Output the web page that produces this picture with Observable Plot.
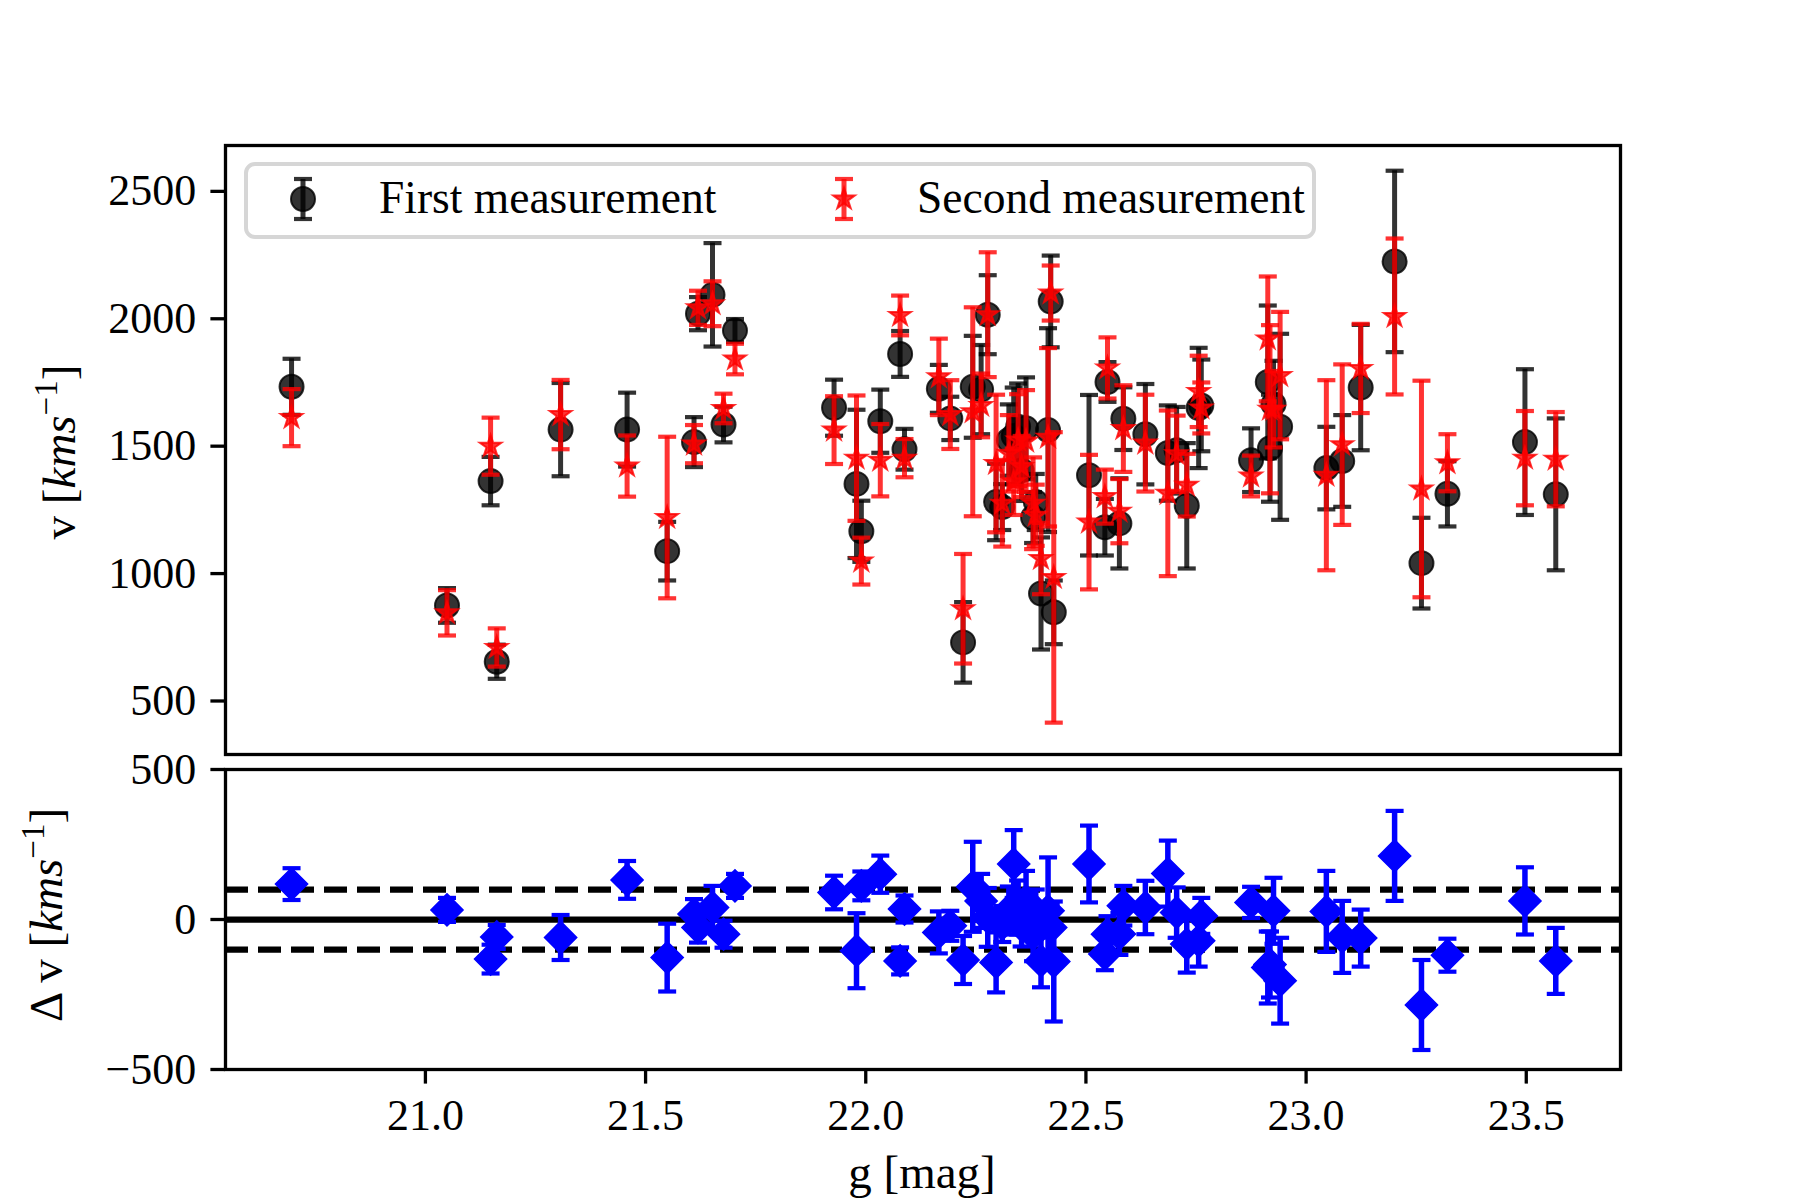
<!DOCTYPE html>
<html>
<head>
<meta charset="utf-8">
<script src="https://cdn.jsdelivr.net/npm/d3@7"></script>
<script src="https://cdn.jsdelivr.net/npm/@observablehq/plot@0.6"></script>
<style>
  html, body { margin: 0; padding: 0; background: white; }
  #chart { position: relative; width: 1800px; height: 1200px; background: white; }
  #chart svg { position: absolute; left: 0; overflow: visible; }
</style>
</head>
<body>
<div id="chart"></div>
<script>
// ---- data ----
const gmag = [20.696, 21.049, 21.148, 21.162, 21.307, 21.458, 21.549, 21.610, 21.619, 21.652,
  21.677, 21.703, 21.928, 21.979, 21.990, 22.033, 22.078, 22.088, 22.166, 22.192,
  22.221, 22.243, 22.262, 22.277, 22.296, 22.310, 22.325, 22.336, 22.346, 22.354,
  22.364, 22.380, 22.386, 22.398, 22.414, 22.420, 22.427, 22.507, 22.543, 22.549,
  22.576, 22.585, 22.635, 22.686, 22.706, 22.729, 22.756, 22.762, 22.875, 22.913,
  22.918, 22.926, 22.941, 23.046, 23.082, 23.124, 23.201, 23.262, 23.321, 23.497, 23.567];
const vFirst = [1733, 875, 1363, 654, 1565, 1565, 1088, 1516, 2020, 2094,
  1585, 1954, 1651, 1352, 1166, 1598, 1862, 1488, 1725, 1609,
  730, 1733, 1722, 2016, 1281, 1261, 1524, 1540, 1576, 1405,
  1570, 1220, 1281, 922, 1563, 2068, 848, 1386, 1182, 1752,
  1197, 1608, 1547, 1473, 1484, 1266, 1650, 1660, 1445, 1752,
  1492, 1665, 1576, 1414, 1442, 1730, 2225, 1041, 1313, 1516, 1311];
const eFirst = [110, 68, 95, 67, 183, 145, 115, 98, 65, 203,
  70, 45, 110, 291, 120, 124, 90, 80, 94, 85,
  158, 200, 175, 155, 150, 90, 140, 190, 170, 120,
  200, 100, 110, 220, 400, 180, 125, 315, 111, 78,
  177, 123, 197, 187, 170, 246, 236, 180, 125, 300,
  210, 170, 365, 162, 180, 246, 356, 178, 128, 286, 298];
const vSecond = [1612, 846, 1500, 710, 1624, 1422, 1220, 1508, 2043, 2059,
  1648, 1842, 1563, 1453, 1049, 1445, 2013, 1453, 1772, 1624,
  862, 1635, 1660, 2016, 1432, 1276, 1472, 1360, 1524, 1420,
  1520, 1276, 1229, 1059, 1535, 2101, 985, 1202, 1302, 1807,
  1245, 1569, 1512, 1315, 1470, 1347, 1715, 1650, 1383, 1921,
  1645, 1645, 1777, 1386, 1506, 1805, 2009, 1332, 1435, 1453, 1449];
const eSecond = [112, 89, 112, 75, 136, 120, 317, 75, 67, 88,
  58, 60, 133, 246, 92, 142, 78, 75, 150, 135,
  215, 410, 125, 245, 270, 170, 150, 130, 180, 120,
  200, 180, 120, 140, 350, 108, 570, 264, 106, 120,
  126, 170, 190, 325, 150, 123, 140, 100, 80, 245,
  330, 150, 250, 373, 315, 175, 306, 425, 112, 185, 185];
const dV = [118, 32, -132, -58, -60, 132, -127, 18, -27, 40,
  -49, 112, 90, -104, 112, 151, -138, 35, -43, -21,
  -135, 109, 62, 7, -143, -15, 30, 185, 40, -20,
  62, -49, 20, -138, 29, -27, -140, 185, -115, -49,
  -48, 46, 40, 153, 23, -82, -71, 12, 57, -160,
  -150, 29, -204, 27, -58, -62, 212, -285, -119, 62, -138];
const dVerr = [53, 40, 48, 40, 75, 63, 113, 50, 50, 72,
  45, 40, 56, 125, 48, 62, 45, 45, 70, 50,
  80, 150, 90, 98, 100, 60, 80, 113, 90, 70,
  100, 90, 80, 88, 178, 80, 200, 128, 54, 60,
  70, 66, 89, 110, 84, 95, 86, 60, 52, 120,
  110, 110, 143, 135, 120, 95, 150, 150, 55, 112, 110];

const xTicks = [21.0, 21.5, 22.0, 22.5, 23.0, 23.5];
const yTicksTop = [500, 1000, 1500, 2000, 2500];
const yTicksBottom = [-500, 0, 500];
const zeroLine = [0];
const limitLines = [100, -100];
const legendLabels = ["First measurement", "Second measurement"];

const rows = gmag.map((g, i) => ({
  g, v1: vFirst[i], e1: eFirst[i], v2: vSecond[i], e2: eSecond[i], dv: dV[i], dve: dVerr[i]
}));

// ---- style ----
const FONT = "'Liberation Serif', 'DejaVu Serif', serif";
const FS = 44;
const LFS = 47;
const LEGFS = 45.5;
const xDomain = [20.546, 23.714];
const minus = d => d < 0 ? "\u2212" + Math.abs(d) : String(d);
const cap = { draw(ctx, size) { const w = Math.sqrt(size / Math.PI); ctx.moveTo(-w, 0); ctx.lineTo(w, 0); } };
const svgStyle = { fontFamily: FONT, fontSize: FS + "px", background: "transparent", color: "black", overflow: "visible" };

function errMarks(y, e, color, opacity, lw) {
  const common = { x: "g", stroke: color, strokeOpacity: opacity, fill: "none" };
  return [
    Plot.ruleX(rows, { ...common, y1: d => d[y] - d[e], y2: d => d[y] + d[e], strokeWidth: lw }),
    Plot.dot(rows, { ...common, y: d => d[y] - d[e], symbol: cap, r: 9, strokeWidth: 4.2, strokeLinecap: "butt" }),
    Plot.dot(rows, { ...common, y: d => d[y] + d[e], symbol: cap, r: 9, strokeWidth: 4.2, strokeLinecap: "butt" })
  ];
}

// ---- top panel ----
const topPlot = Plot.plot({
  width: 1800, height: 760,
  marginTop: 145, marginBottom: 6, marginLeft: 225, marginRight: 180,
  style: svgStyle,
  x: { domain: xDomain, axis: null },
  y: { domain: [290, 2680] },
  marks: [
    Plot.axisY({ ticks: yTicksTop, tickSize: 14.6, tickPadding: 14.6, strokeWidth: 3.3, label: null,
      tickFormat: d => String(d), fontSize: FS, fontFamily: FONT }),
    ...errMarks("v1", "e1", "black", 0.8, 5),
    Plot.dot(rows, { x: "g", y: "v1", r: 12, fill: "black", fillOpacity: 0.8, stroke: "black", strokeOpacity: 0.8, strokeWidth: 2 }),
    ...errMarks("v2", "e2", "red", 0.8, 5),
    Plot.dot(rows, { x: "g", y: "v2", symbol: "star", r: 6.8, fill: "red", fillOpacity: 0.8, stroke: "red", strokeOpacity: 0.8, strokeWidth: 2 }),
    Plot.frame({ stroke: "black", strokeWidth: 3.3 })
  ]
});
topPlot.style.top = "0px";

// ---- bottom panel ----
const bottomPlot = Plot.plot({
  width: 1800, height: 500,
  marginTop: 69, marginBottom: 131, marginLeft: 225, marginRight: 180,
  style: svgStyle,
  x: { domain: xDomain },
  y: { domain: [-500, 500] },
  marks: [
    Plot.axisX({ ticks: xTicks, tickSize: 14.6, tickPadding: 14.6, strokeWidth: 3.3, label: null,
      tickFormat: d => d.toFixed(1), fontSize: FS, fontFamily: FONT }),
    Plot.axisY({ ticks: yTicksBottom, tickSize: 14.6, tickPadding: 14.6, strokeWidth: 3.3, label: null,
      tickFormat: minus, fontSize: FS, fontFamily: FONT }),
    Plot.ruleY(zeroLine, { stroke: "black", strokeWidth: 6.25 }),
    Plot.ruleY(limitLines, { stroke: "black", strokeWidth: 6.25, strokeDasharray: "23,10" }),
    ...errMarks("dv", "dve", "blue", 1, 5.5),
    Plot.dot(rows, { x: "g", y: "dv", symbol: "diamond2", r: 14.5, fill: "blue", stroke: "blue", strokeWidth: 1.5 }),
    Plot.frame({ stroke: "black", strokeWidth: 3.3 })
  ]
});
bottomPlot.style.top = "700px";

const chart = document.getElementById("chart");
chart.appendChild(topPlot);
chart.appendChild(bottomPlot);

// ---- axis labels ----
function yLabel(svg, x, y, prefix) {
  const t = d3.select(svg).append("text")
    .attr("transform", `translate(${x},${y}) rotate(-90)`)
    .attr("text-anchor", "middle").attr("font-family", FONT).attr("font-size", LFS).attr("fill", "black");
  t.append("tspan").text(prefix + " [");
  t.append("tspan").attr("font-style", "italic").text("kms");
  t.append("tspan").attr("font-size", 33).attr("dy", -18).text("\u22121");
  t.append("tspan").attr("dy", 18).text("]");
}
yLabel(topPlot, 75, 452, "v");
yLabel(bottomPlot, 62, 215, "\u0394 v");

d3.select(bottomPlot).append("text")
  .attr("x", 922).attr("y", 488).attr("text-anchor", "middle")
  .attr("font-family", FONT).attr("font-size", LFS).attr("fill", "black")
  .text("g [mag]");

// ---- legend ----
const lg = d3.select(topPlot).append("g");
lg.append("rect").attr("x", 246).attr("y", 164).attr("width", 1068).attr("height", 73).attr("rx", 9)
  .attr("fill", "white").attr("fill-opacity", 0.8).attr("stroke", "#d6d6d6").attr("stroke-width", 4);
const handles = [
  { x: 303, tx: 379, color: "black", type: d3.symbolCircle, size: Math.PI * 144, label: legendLabels[0] },
  { x: 844, tx: 917, color: "red", type: d3.symbolStar, size: Math.PI * 6.8 * 6.8, label: legendLabels[1] }
];
for (const h of handles) {
  const hy = 199;
  lg.append("line").attr("x1", h.x).attr("x2", h.x).attr("y1", hy - 20).attr("y2", hy + 20)
    .attr("stroke", h.color).attr("stroke-opacity", 0.8).attr("stroke-width", 5);
  for (const cy of [hy - 20, hy + 20]) {
    lg.append("line").attr("x1", h.x - 9).attr("x2", h.x + 9).attr("y1", cy).attr("y2", cy)
      .attr("stroke", h.color).attr("stroke-opacity", 0.8).attr("stroke-width", 4.2);
  }
  lg.append("path").attr("d", d3.symbol(h.type, h.size)()).attr("transform", `translate(${h.x},${hy})`)
    .attr("fill", h.color).attr("fill-opacity", 0.8).attr("stroke", h.color).attr("stroke-opacity", 0.8).attr("stroke-width", 2);
  lg.append("text").attr("x", h.tx).attr("y", 213).attr("text-anchor", "start")
    .attr("font-family", FONT).attr("font-size", LEGFS).attr("fill", "black").text(h.label);
}
</script>
</body>
</html>
